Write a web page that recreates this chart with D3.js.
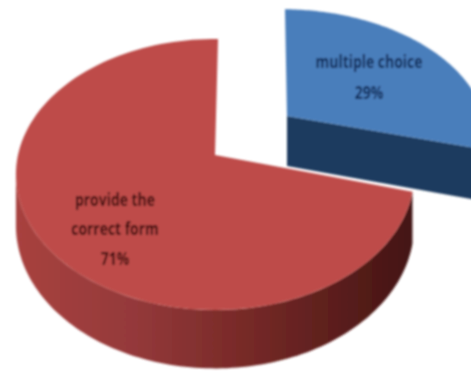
<!DOCTYPE html>
<html><head><meta charset="utf-8">
<script src="https://cdn.jsdelivr.net/npm/d3@7/dist/d3.min.js"></script>
<style>html,body{margin:0;background:#fff;overflow:hidden}svg{display:block}
text{font-family:"Open Sans",sans-serif;font-weight:700;font-size:17px;text-anchor:middle}</style>
</head><body><svg id="c" width="471" height="374"></svg>
<script>
const categories = ["multiple choice", "provide the correct form"];
const values = [29, 71];
const valueLabels = ["29%", "71%"];

const svg = d3.select("#c");
const defs = svg.append("defs");
defs.append("filter").attr("id","soft").append("feGaussianBlur").attr("stdDeviation",0.8);
const grad = defs.append("linearGradient").attr("id","redSide");
[[0,"#a8423f"],[0.3,"#94393a"],[0.55,"#7a2b29"],[0.8,"#5c1f1d"],[1,"#431412"]].forEach(([o,c])=>
  grad.append("stop").attr("offset",o).attr("stop-color",c));

const rad = Math.PI/180;
const pie = d3.pie().sort(null).startAngle(rad).endAngle(rad+2*Math.PI);
const arcs = pie(values);

const k = 0.1438, S = 132.7, R = 197, D = 50;
const slices = [
  {x0:287, y0:116, lean:5, sy:0.92, top:"#4a7ebb", side:"#1d3a5e", text:"#0f2a58"},
  {x0:215, y0:155, lean:0, sy:1, top:"#be4b48", side:"url(#redSide)", text:"#3f0e0d"}
];
const proj = (s, r, a, drop) => {
  const u = r*Math.sin(a), v = -r*Math.cos(a), w = 1 - k*v;
  return [s.x0 + R*u/w + s.lean*v, s.y0 + s.sy*S*v/w + (drop ? D/w : 0)];
};
const line = d3.line().curve(d3.curveLinearClosed);
const arcPts = (s, a0, a1, drop) => d3.range(0, 121).map(i => proj(s, 1, a0 + (a1-a0)*i/120, drop));

const g = svg.append("g").attr("filter","url(#soft)");
arcs.forEach((d,i) => {
  const s = slices[i], a0 = d.startAngle, a1 = d.endAngle;
  const outer = arcPts(s,a0,a1,false);
  if (i === 0) {
    // cut face of the exploded slice
    g.append("path").attr("fill",s.side).attr("d",line([proj(s,0,a1,false),proj(s,1,a1,false),proj(s,1,a1,true),proj(s,0,a1,true)]));
  } else {
    // outer wall runs up to the silhouette tangent on the left
    const wa = 1.5*Math.PI - Math.asin(k);
    g.append("path").attr("fill",s.side).attr("d",line(arcPts(s,a0,wa,false).concat(arcPts(s,a0,wa,true).reverse())));
  }
  g.append("path").attr("fill",s.top).attr("d",line([proj(s,0,0,false)].concat(outer)));
});

const labels = [
  {x:369, lines:[[categories[0],68],[valueLabels[0],99]]},
  {x:115, lines:[["provide the",206],["correct form",235],[valueLabels[1],265]]}
];
labels.forEach((l,i)=>l.lines.forEach(([t,y])=>
  g.append("text").attr("transform",`translate(${l.x},${y}) scale(0.82,1)`).attr("fill",slices[i].text).text(t)));
</script></body></html>
